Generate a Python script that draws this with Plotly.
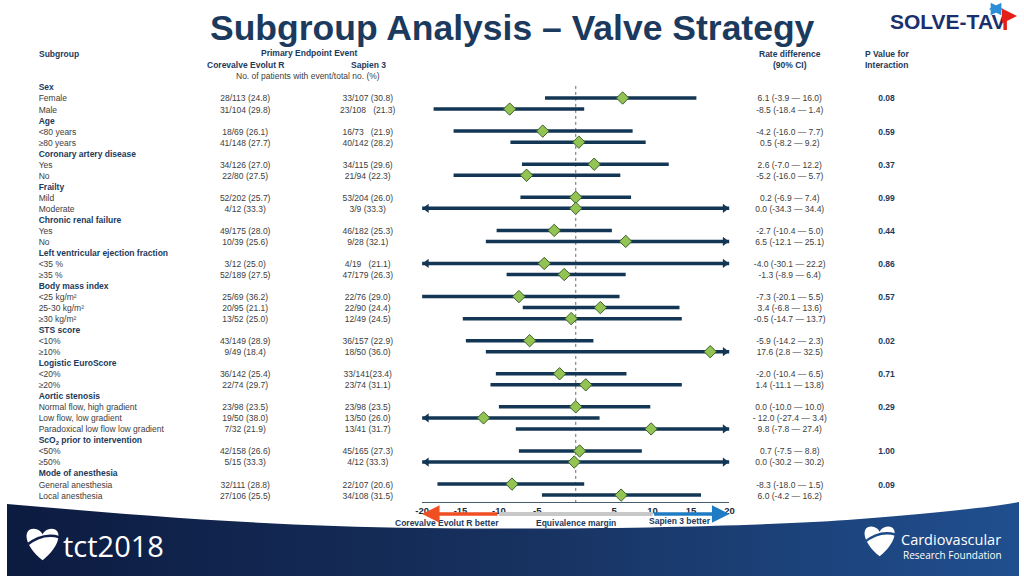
import base64

import plotly.graph_objects as go

# ---- data -------------------------------------------------------------------
groups = [
    "Sex", "Age", "Coronary artery disease", "Frailty", "Chronic renal failure",
    "Left ventricular ejection fraction", "Body mass index", "STS score",
    "Logistic EuroScore", "Aortic stenosis", "ScO<sub>2</sub> prior to intervention",
    "Mode of anesthesia",
]
group_sizes = [2, 2, 2, 2, 2, 2, 3, 2, 2, 3, 2, 2]
p_values = ["0.08", "0.59", "0.37", "0.99", "0.44", "0.86", "0.57", "0.02",
            "0.71", "0.29", "1.00", "0.09"]

subgroups = [
    "Female", "Male", "<80 years", "≥80 years", "Yes", "No", "Mild", "Moderate",
    "Yes", "No", "<35 %", "≥35 %", "<25 kg/m²", "25-30 kg/m²", "≥30 kg/m²",
    "<10%", "≥10%", "<20%", "≥20%", "Normal flow, high gradient",
    "Low flow, low gradient", "Paradoxical low flow low gradient",
    "<50%", "≥50%", "General anesthesia", "Local anesthesia",
]
corevalve = [
    "28/113 (24.8)", "31/104 (29.8)", "18/69 (26.1)", "41/148 (27.7)",
    "34/126 (27.0)", "22/80 (27.5)", "52/202 (25.7)", "4/12 (33.3)",
    "49/175 (28.0)", "10/39 (25.6)", "3/12 (25.0)", "52/189 (27.5)",
    "25/69 (36.2)", "20/95 (21.1)", "13/52 (25.0)", "43/149 (28.9)",
    "9/49 (18.4)", "36/142 (25.4)", "22/74 (29.7)", "23/98 (23.5)",
    "19/50 (38.0)", "7/32 (21.9)", "42/158 (26.6)", "5/15 (33.3)",
    "32/111 (28.8)", "27/106 (25.5)",
]
sapien = [
    "33/107 (30.8)", "23/108\u00a0\u00a0 (21.3)", "16/73\u00a0\u00a0 (21.9)", "40/142 (28.2)",
    "34/115 (29.6)", "21/94 (22.3)", "53/204 (26.0)", "3/9 (33.3)",
    "46/182 (25.3)", "9/28 (32.1)", "4/19\u00a0\u00a0 (21.1)", "47/179 (26.3)",
    "22/76 (29.0)", "22/90 (24.4)", "12/49 (24.5)", "36/157 (22.9)",
    "18/50 (36.0)", "33/141(23.4)", "23/74 (31.1)", "23/98 (23.5)",
    "13/50 (26.0)", "13/41 (31.7)", "45/165 (27.3)", "4/12 (33.3)",
    "22/107 (20.6)", "34/108 (31.5)",
]
rate_text = [
    "6.1 (-3.9 — 16.0)", "-8.5 (-18.4 — 1.4)", "-4.2 (-16.0 — 7.7)", "0.5 (-8.2 — 9.2)",
    "2.6 (-7.0 — 12.2)", "-5.2 (-16.0 — 5.7)", "0.2 (-6.9 — 7.4)", "0.0 (-34.3 — 34.4)",
    "-2.7 (-10.4 — 5.0)", "6.5 (-12.1 — 25.1)", "-4.0 (-30.1 — 22.2)", "-1.3 (-8.9 — 6.4)",
    "-7.3 (-20.1 — 5.5)", "3.4 (-6.8 — 13.6)", "-0.5 (-14.7 — 13.7)", "-5.9 (-14.2 — 2.3)",
    "17.6 (2.8 — 32.5)", "-2.0 (-10.4 — 6.5)", "1.4 (-11.1 — 13.8)", "0.0 (-10.0 — 10.0)",
    "- 12.0 (-27.4 — 3.4)", "9.8 (-7.8 — 27.4)", "0.7 (-7.5 — 8.8)", "0.0 (-30.2 — 30.2)",
    "-8.3 (-18.0 — 1.5)", "6.0 (-4.2 — 16.2)",
]
# plotted markers (as drawn in the figure)
est = [6.1, -8.6, -4.3, 0.4, 2.4, -6.4, 0.0, 0.0, -2.8, 6.5, -4.1, -1.5, -7.4,
       3.2, -0.6, -6.0, 17.5, -2.1, 1.3, 0.0, -12.0, 9.8, 0.5, -0.2, -8.3, 5.9]
ci_lo = [-4.0, -18.5, -15.9, -8.5, -7.0, -15.9, -7.2, -34.3, -10.3, -11.7, -30.1,
         -9.0, -20.1, -6.9, -14.7, -14.3, -11.7, -10.4, -11.1, -10.0, -27.4, -7.8,
         -7.4, -30.2, -18.0, -4.4]
ci_hi = [15.7, 1.1, 7.4, 9.1, 12.1, 5.8, 7.2, 34.4, 4.7, 25.1, 22.2, 6.5, 5.7,
         13.5, 13.8, 2.3, 32.5, 6.6, 13.8, 9.7, 3.1, 27.4, 8.6, 30.2, 1.1, 16.3]
tick_vals = [-20, -15, -10, -5, 5, 10, 15, 20]

# ---- style / layout constants -----------------------------------------------
W, H = 1024, 576
FONT = "Liberation Sans, Arial, sans-serif"
NAVY = "#1c3a5c"
LINE = "#123654"
GREEN = "#92c353"
GREEN_EDGE = "#3c5f2c"
TXT = "#3d3d3d"
RED = "#f04e23"
BLUE = "#1f7bc4"
FS = 8.5

ROW0, ROW_H = 87, 11.03          # pixel y of first row, row pitch
AXIS_PX = 502                    # pixel y of forest x-axis
FX0, FX1 = 420, 731              # pixel extent of forest axis
X_LABEL, X_CORE, X_SAP, X_RATE, X_P = 32, 241, 365, 792, 890
TXT_DY = 0.12                    # nudge text rows to sit on the CI lines
PX_PER_UNIT = (FX1 - FX0) / 40.0


def py(p):
    return 1 - p / H


# row indices
header_rows, sub_rows, p_rows = [], [], []
r = 0
for n in group_sizes:
    header_rows.append(r)
    sub_rows += list(range(r + 1, r + 1 + n))
    p_rows.append(r + 1)
    r += n + 1

fig = go.Figure()


def text_col(x, rows, texts, pos, color=TXT, bold=False):
    fig.add_trace(go.Scatter(
        x=[x] * len(rows), y=[v + TXT_DY for v in rows], mode="text",
        text=[f"<b>{t}</b>" if bold else t for t in texts],
        textposition=pos,
        textfont=dict(family=FONT, size=FS, color=color),
        hoverinfo="skip", xaxis="x", yaxis="y",
    ))


text_col(X_LABEL, header_rows, groups, "middle right", NAVY, bold=True)
text_col(X_LABEL, sub_rows, subgroups, "middle right")
text_col(X_CORE, sub_rows, corevalve, "middle center")
text_col(X_SAP, sub_rows, sapien, "middle center")
text_col(X_RATE, sub_rows, rate_text, "middle center")
text_col(X_P, p_rows, p_values, "middle center", NAVY, bold=True)

# ---- forest marks -----------------------------------------------------------
lim = 20
seg_x, seg_y = [], []
left_rows, right_rows = [], []
arrow_off = 4.6 / PX_PER_UNIT
for row, lo, hi in zip(sub_rows, ci_lo, ci_hi):
    seg_x += [max(lo, -lim), min(hi, lim), None]
    seg_y += [row, row, None]
    if lo < -lim - 0.5:
        left_rows.append(row)
    if hi > lim + 0.5:
        right_rows.append(row)

fig.add_trace(go.Scatter(
    x=seg_x, y=seg_y, mode="lines", line=dict(color=LINE, width=3.5),
    hoverinfo="skip", xaxis="x2", yaxis="y",
))
fig.add_trace(go.Scatter(
    x=[-lim + arrow_off] * len(left_rows), y=left_rows, mode="markers",
    marker=dict(symbol="triangle-left", size=8, color=LINE),
    hoverinfo="skip", xaxis="x2", yaxis="y",
))
fig.add_trace(go.Scatter(
    x=[lim - arrow_off] * len(right_rows), y=right_rows, mode="markers",
    marker=dict(symbol="triangle-right", size=8, color=LINE),
    hoverinfo="skip", xaxis="x2", yaxis="y",
))
fig.add_trace(go.Scatter(
    x=est, y=sub_rows, mode="markers",
    marker=dict(symbol="diamond", size=9.5, color=GREEN,
                line=dict(color=GREEN_EDGE, width=1)),
    hoverinfo="skip", xaxis="x2", yaxis="y",
))

ybottom = (AXIS_PX - ROW0) / ROW_H
shapes = [
    dict(type="line", xref="x2", yref="y", x0=0, x1=0, y0=-0.1, y1=ybottom,
         line=dict(color="#6a6a6a", width=1, dash="dot"), layer="below"),
    # equivalence margin bar
    dict(type="line", xref="x2", yref="paper", x0=-10, x1=10,
         y0=py(514), y1=py(514), line=dict(color="#c8c8c8", width=4)),
]

# ---- bottom band (gradient) -------------------------------------------------
band_svg = (
    '<svg xmlns="http://www.w3.org/2000/svg" width="1024" height="80" '
    'viewBox="0 496 1024 80" preserveAspectRatio="none">'
    '<defs><linearGradient id="g" x1="0" x2="1" y1="0" y2="0">'
    '<stop offset="0" stop-color="#0c1b40"/>'
    '<stop offset="0.5" stop-color="#17315f"/>'
    '<stop offset="1" stop-color="#204f8f"/></linearGradient></defs>'
    '<path d="M0,504 C120,514 250,526 420,528 C600,530 760,526 850,520 '
    'C930,514 990,508 1024,502 L1024,576 L0,576 Z" fill="url(#g)"/></svg>'
)
band_uri = "data:image/svg+xml;base64," + base64.b64encode(band_svg.encode()).decode()


def heart(cx, cy, s):
    pts = [
        ("M", [(cx, cy + 0.48 * s)]),
        ("C", [(cx - 0.55 * s, cy + 0.05 * s), (cx - 0.6 * s, cy - 0.45 * s), (cx - 0.27 * s, cy - 0.45 * s)]),
        ("C", [(cx - 0.1 * s, cy - 0.45 * s), (cx, cy - 0.32 * s), (cx, cy - 0.27 * s)]),
        ("C", [(cx, cy - 0.32 * s), (cx + 0.1 * s, cy - 0.45 * s), (cx + 0.27 * s, cy - 0.45 * s)]),
        ("C", [(cx + 0.6 * s, cy - 0.45 * s), (cx + 0.55 * s, cy + 0.05 * s), (cx, cy + 0.48 * s)]),
    ]
    d = ""
    for cmd, ps in pts:
        d += cmd + " ".join(f"{x / W:.5f},{py(y):.5f}" for x, y in ps) + " "
    return d + "Z"


def swoosh(cx, cy, s, color):
    a = (cx - 0.5 * s, cy + 0.05 * s)
    c = (cx, cy - 0.35 * s)
    b = (cx + 0.5 * s, cy - 0.2 * s)
    d = f"M{a[0] / W:.5f},{py(a[1]):.5f} Q{c[0] / W:.5f},{py(c[1]):.5f} {b[0] / W:.5f},{py(b[1]):.5f}"
    return dict(type="path", xref="paper", yref="paper", path=d,
                line=dict(color=color, width=2.5))


for hx, hy, hs, col in [(36, 544, 34, "#0f1f47"), (883, 541, 32, "#1e4a88")]:
    shapes.append(dict(type="path", xref="paper", yref="paper", path=heart(hx, hy, hs),
                       fillcolor="white", line=dict(width=0)))
    shapes.append(swoosh(hx, hy, hs, col))

# SOLVE-TAVI red bent arrow
shapes.append(dict(type="path", xref="x", yref="paper",
                   path=f"M1010,{py(30)} L1010,{py(16)} L1015,{py(16)}",
                   line=dict(color="#e32119", width=3.5)))

annotations = []


def note(text, x, y, size=FS, color=NAVY, xanchor="center", xref="x", family=FONT):
    annotations.append(dict(text=text, x=x, y=py(y), xref=xref, yref="paper",
                            xanchor=xanchor, yanchor="middle", showarrow=False,
                            font=dict(family=family, size=size, color=color)))


note("<b>Subgroup Analysis – Valve Strategy</b>", 511, 28, size=35.5, color="#1b3a5e")
note("<b>Subgroup</b>", X_LABEL - 2, 54, xanchor="left")
note("<b>Primary Endpoint Event</b>", 306, 53)
note("<b>Corevalve Evolut R</b>", X_CORE, 65)
note("<b>Sapien 3</b>", X_SAP + 1, 65)
note("No. of patients with event/total no. (%)", 305, 76, color=TXT)
note("<b>Rate difference</b>", X_RATE, 54)
note("<b>(90% CI)</b>", X_RATE, 65)
note("<b>P Value for</b>", X_P, 54)
note("<b>Interaction</b>", X_P, 65)

# arrow bar labels
note("<b>Corevalve Evolut R better</b>", -16.8, 523, xref="x2")
note("<b>Equivalence margin</b>", 0, 523, xref="x2")
note("<b>Sapien 3 better</b>", 13.6, 521, xref="x2")

# logos
note("<b>SOLVE-TAV</b>", 952, 22, size=21, color="#1b2f6e")
note("tct2018", 55, 545, size=29, color="white", xanchor="left", family="Open Sans, sans-serif")
note("Cardiovascular", 903, 539, size=14.5, color="white", xanchor="left", family="Open Sans, sans-serif")
note("Research Foundation", 905, 555, size=10, color="white", xanchor="left", family="Open Sans, sans-serif")

# arrow heads of the "better" bar
for head, tail, col in [(-20, -10, RED), (20, 10, BLUE)]:
    annotations.append(dict(x=head, y=py(514), xref="x2", yref="paper",
                            ax=tail, ay=0, axref="x2", ayref="pixel",
                            text="", showarrow=True, arrowhead=2, arrowsize=1,
                            arrowwidth=3.5, arrowcolor=col))
# SOLVE-TAVI arrows
annotations.append(dict(x=1022, y=py(16), xref="x", yref="paper", ax=1014, ay=0,
                        axref="x", ayref="pixel", text="", showarrow=True,
                        arrowhead=2, arrowsize=1, arrowwidth=3, arrowcolor="#e32119"))
annotations.append(dict(x=1008, y=py(9), xref="x", yref="paper", ax=992, ay=0,
                        axref="x", ayref="pixel", text="", showarrow=True,
                        arrowhead=2, arrowside="end+start", arrowsize=1,
                        arrowwidth=2.5, arrowcolor="#2a8fd6"))

fig.update_layout(
    width=W, height=H,
    margin=dict(l=0, r=0, t=0, b=0),
    paper_bgcolor="white", plot_bgcolor="rgba(0,0,0,0)",
    showlegend=False,
    font=dict(family=FONT, size=FS, color=TXT),
    xaxis=dict(domain=[0, 1], range=[0, W], visible=False, fixedrange=True),
    xaxis2=dict(
        domain=[FX0 / W, FX1 / W], range=[-20, 20], anchor="y",
        showline=True, linecolor="#4a5d70", linewidth=1,
        showgrid=False, zeroline=False, ticks="",
        tickvals=tick_vals, ticktext=[f"<b>{v}</b>" for v in tick_vals],
        tickfont=dict(family=FONT, size=9.5, color="#1a2a3a"),
        fixedrange=True,
    ),
    yaxis=dict(domain=[1 - AXIS_PX / H, 1], range=[ybottom, -ROW0 / ROW_H],
               visible=False, fixedrange=True),
    shapes=shapes,
    annotations=annotations,
    images=[dict(source=band_uri, xref="paper", yref="paper", x=0, y=0,
                 sizex=1, sizey=80 / H, xanchor="left", yanchor="bottom",
                 sizing="stretch", layer="below")],
)

# the page's default body margin would shift the 1024x576 figure off-screen
fig.write_html("out.html", config={"displayModeBar": False},
               post_script="document.body.style.margin='0';"
                           "document.body.style.overflow='hidden';")
